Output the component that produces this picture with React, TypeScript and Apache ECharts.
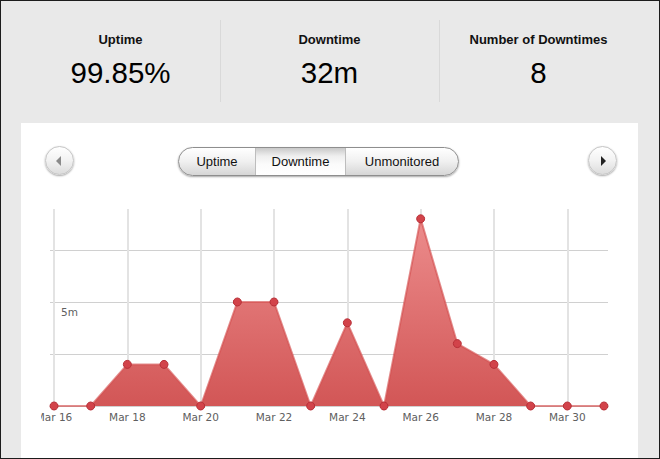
import React, { useEffect, useRef } from "react";
import * as echarts from "echarts";

const dates = [
  "Mar 16", "Mar 17", "Mar 18", "Mar 19", "Mar 20", "Mar 21", "Mar 22", "Mar 23",
  "Mar 24", "Mar 25", "Mar 26", "Mar 27", "Mar 28", "Mar 29", "Mar 30", "Mar 31",
];
const downtimeMinutes = [0, 0, 2, 2, 0, 5, 5, 0, 4, 0, 9, 3, 2, 0, 0, 0];
const xLabelIndexes = [0, 2, 4, 6, 8, 10, 12, 14];
const yGridValues = [0, 2.5, 5, 7.5];
const yLabelValues = [5];

const statTitles = ["Uptime", "Downtime", "Number of Downtimes"];
const statValues = ["99.85%", "32m", "8"];
const tabs = ["Uptime", "Downtime", "Unmonitored"];
const selectedTab = "Downtime";

const FONT = '"Liberation Sans", Arial, sans-serif';

function Chart() {
  const ref = useRef<HTMLDivElement>(null);
  useEffect(() => {
    if (!ref.current) return;
    const chart = echarts.init(ref.current, null, { renderer: "svg" });
    chart.setOption({
      animation: false,
      grid: { left: 9, right: 30, top: 19, bottom: 53, containLabel: false, outerBoundsMode: "none" },
      xAxis: {
        type: "value",
        min: -0.11,
        max: 15.11,
        axisLine: { show: true, lineStyle: { color: "#d0d0d0", width: 1 } },
        axisTick: { show: false, customValues: xLabelIndexes },
        axisLabel: {
          customValues: xLabelIndexes,
          formatter: (v: number) => dates[Math.round(v)] ?? "",
          color: "#606060",
          fontFamily: '"DejaVu Sans", Verdana, sans-serif',
          fontSize: 10.5,
          margin: 5,
        },
        splitLine: { show: true, lineStyle: { color: "#e3e3e3", width: 2 } },
      },
      yAxis: {
        type: "value",
        min: 0,
        max: 9.47,
        axisLine: { show: false },
        axisTick: { show: false, customValues: yGridValues },
        axisLabel: {
          customValues: yLabelValues,
          inside: true,
          margin: 11,
          verticalAlign: "top",
          padding: [5, 0, 0, 0],
          formatter: (v: number) => `${v}m`,
          color: "#606060",
          fontFamily: '"DejaVu Sans", Verdana, sans-serif',
          fontSize: 10.5,
        },
        splitLine: { show: true, lineStyle: { color: "#d0d0d0", width: 1 } },
      },
      series: [
        {
          type: "line",
          data: downtimeMinutes.map((v, i) => [i, v]),
          symbol: "circle",
          symbolSize: 8,
          showAllSymbol: true,
          itemStyle: { color: "#d2434a", borderColor: "#b83038", borderWidth: 1 },
          lineStyle: { color: "rgba(212,80,80,0.65)", width: 2 },
          areaStyle: {
            opacity: 1,
            color: new echarts.graphic.LinearGradient(0, 0, 0, 1, [
              { offset: 0, color: "#ec8c8c" },
              { offset: 1, color: "#d25656" },
            ]),
          },
          z: 3,
        },
      ],
    });
    return () => chart.dispose();
  }, []);
  return (
    <div
      ref={ref}
      style={{ position: "absolute", left: 41, top: 190, width: 597, height: 269 }}
    />
  );
}

function CircleButton({ left, dir }: { left: number; dir: "left" | "right" }) {
  return (
    <div
      style={{
        position: "absolute",
        left,
        top: 146,
        width: 29,
        height: 29,
        boxSizing: "border-box",
        borderRadius: "50%",
        border: "1px solid #c4c4c4",
        background: "linear-gradient(#ffffff, #f2f2f2 50%, #dcdcdc)",
        boxShadow: "0 1px 2px rgba(0,0,0,0.35)",
      }}
    >
      <div
        style={{
          position: "absolute",
          top: 9,
          left: dir === "left" ? 10 : 12,
          width: 0,
          height: 0,
          borderTop: "5px solid transparent",
          borderBottom: "5px solid transparent",
          ...(dir === "left"
            ? { borderRight: "5px solid #8a8a8a" }
            : { borderLeft: "5px solid #222" }),
        }}
      />
    </div>
  );
}

export default function App() {
  const colLefts = [21, 220, 439];
  const colWidths = [199, 219, 199];
  const tabWidths = [76, 90, 113];
  return (
    <div
      style={{
        position: "fixed",
        left: 0,
        top: 0,
        width: 660,
        height: 459,
        background: "#e9e9e9",
        overflow: "hidden",
        fontFamily: FONT,
        color: "#000",
      }}
    >
      {statTitles.map((t, i) => (
        <React.Fragment key={t}>
          <div
            style={{
              position: "absolute",
              left: colLefts[i],
              width: colWidths[i],
              top: 32,
              lineHeight: "16px",
              fontSize: 13,
              fontWeight: "bold",
              textAlign: "center",
              color: "#111",
            }}
          >
            {t}
          </div>
          <div
            style={{
              position: "absolute",
              left: colLefts[i],
              width: colWidths[i],
              top: 56,
              lineHeight: "34px",
              fontSize: 29.5,
              textAlign: "center",
              color: "#000",
            }}
          >
            {statValues[i]}
          </div>
        </React.Fragment>
      ))}
      {[220, 439].map((x) => (
        <div
          key={x}
          style={{ position: "absolute", left: x, top: 20, width: 1, height: 82, background: "#d9d9d9" }}
        />
      ))}
      <div
        style={{ position: "absolute", left: 21, top: 123, width: 617, height: 340, background: "#fff" }}
      />
      <CircleButton left={45} dir="left" />
      <CircleButton left={588} dir="right" />
      <div
        style={{
          position: "absolute",
          left: 178,
          top: 147,
          width: 281,
          height: 29,
          boxSizing: "border-box",
          borderRadius: 15,
          border: "1px solid #8e8e8e",
          background: "linear-gradient(#ffffff, #f0f0f0 50%, #d6d6d6)",
          boxShadow: "0 1px 2px rgba(0,0,0,0.35)",
          display: "flex",
          overflow: "hidden",
        }}
      >
        {tabs.map((t, i) => (
          <div
            key={t}
            style={{
              width: tabWidths[i],
              height: "100%",
              boxSizing: "border-box",
              borderLeft: i > 0 ? "1px solid #bdbdbd" : "none",
              display: "flex",
              alignItems: "center",
              justifyContent: "center",
              fontSize: 13,
              color: "#111",
              background:
                t === selectedTab
                  ? "linear-gradient(#c9c9c9, #efefef 30%, #fbfbfb 60%, #ffffff)"
                  : "transparent",
            }}
          >
            {t}
          </div>
        ))}
      </div>
      <Chart />
      <div
        style={{
          position: "absolute",
          left: 0,
          top: 0,
          width: 660,
          height: 459,
          boxSizing: "border-box",
          border: "1px solid #1c1c1c",
          pointerEvents: "none",
        }}
      />
    </div>
  );
}
